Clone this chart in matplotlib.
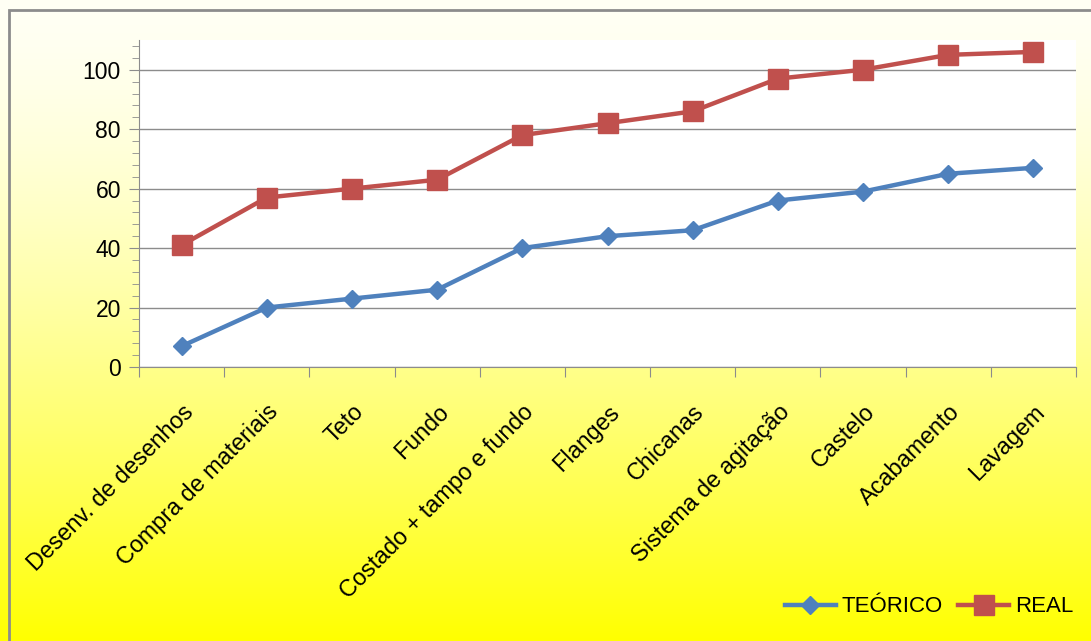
import matplotlib
matplotlib.use('Agg')
import matplotlib.pyplot as plt
import numpy as np
from matplotlib.patches import Rectangle
from matplotlib.ticker import MultipleLocator

etapas = ['Desenv. de desenhos', 'Compra de materiais', 'Teto', 'Fundo',
          'Costado + tampo e fundo', 'Flanges', 'Chicanas',
          'Sistema de agitação', 'Castelo', 'Acabamento', 'Lavagem']
teorico = [7, 20, 23, 26, 40, 44, 46, 56, 59, 65, 67]
real = [41, 57, 60, 63, 78, 82, 86, 97, 100, 105, 106]

plt.rcParams['font.family'] = ['Liberation Sans', 'DejaVu Sans']

fig = plt.figure(figsize=(10.91, 6.41), dpi=100)

# fundo em degradê branco -> amarelo
bg = fig.add_axes([0, 0, 1, 1], zorder=-10)
t = np.linspace(0, 1, 400) ** 1.5
grad = np.ones((400, 1, 3))
grad[:, 0, 2] = 0.96 * (1 - t)
bg.imshow(grad, aspect='auto', extent=[0, 1, 0, 1])
bg.set_xlim(0, 1)
bg.set_ylim(0, 1)
bg.axis('off')
bg.add_patch(Rectangle((9 / 1091, -0.1), 1.2, 1 + 0.1 - 10 / 641,
                       fill=False, edgecolor='#8c8c8c', linewidth=2))

ax = fig.add_axes([139 / 1091, 1 - 367 / 641, (1076 - 139) / 1091, (367 - 40) / 641])
ax.set_facecolor('white')

x = np.arange(len(etapas))
ax.plot(x, teorico, color='#4F81BD', linewidth=3.2, marker='D', markersize=9.5,
        label='TEÓRICO', zorder=3)
ax.plot(x, real, color='#C0504D', linewidth=3.2, marker='s', markersize=15,
        label='REAL', zorder=3)

ax.set_xlim(-0.5, len(etapas) - 0.5)
ax.set_ylim(0, 110)
ax.set_yticks(range(0, 101, 20))
ax.yaxis.set_minor_locator(MultipleLocator(4))
ax.grid(axis='y', which='major', color='#8c8c8c', linewidth=1)
ax.set_axisbelow(True)

ax.set_xticks(np.arange(-0.5, len(etapas), 1))
ax.set_xticklabels([])
ax.set_xticks(x, minor=True)
ax.set_xticklabels(etapas, minor=True, rotation=45, ha='right',
                   rotation_mode='anchor', fontsize=16.8)
ax.tick_params(axis='x', which='minor', length=0, pad=24)
ax.tick_params(axis='x', which='major', length=7, color='#8c8c8c')
ax.tick_params(axis='y', which='major', length=7, color='#8c8c8c', labelsize=16.5, pad=6)
ax.tick_params(axis='y', which='minor', length=5, color='#8c8c8c')

for s in ['top', 'right']:
    ax.spines[s].set_visible(False)
for s in ['left', 'bottom']:
    ax.spines[s].set_color('#8c8c8c')

fig.legend(loc='center right', bbox_to_anchor=(1093 / 1091, 1 - 607 / 641),
           ncol=2, frameon=False, fontsize=16, handlelength=2.3,
           columnspacing=0.7, handletextpad=0.25)

plt.savefig('out.png', dpi=100)
